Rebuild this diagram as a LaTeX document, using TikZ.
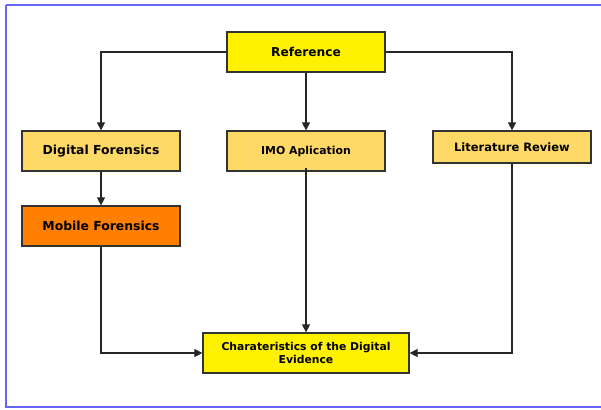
\documentclass[tikz,border=0pt]{standalone}
\usepackage{fontspec}
\setmainfont{DejaVu Sans}
\usetikzlibrary{arrows.meta}
\definecolor{boxedge}{HTML}{333333}
\definecolor{lightorange}{HTML}{FFD966}
\definecolor{darkorange}{HTML}{FF8000}
\definecolor{frameblue}{HTML}{6666FF}
\tikzset{
  box/.style={draw=boxedge, line width=1.2pt, inner sep=0pt, font=\bfseries},
  conn/.style={draw=black!85, line width=1.1pt, -{Triangle[length=8pt,width=8pt]}},
}
\begin{document}
\begin{tikzpicture}[x=1pt,y=-1pt]
\useasboundingbox (0,0) rectangle (601,409);
\draw[frameblue, line width=1.3pt] (6,5) -- (603,5) (6,5) -- (6,407) -- (603,407);
\node[box, fill=yellow, minimum width=158pt, minimum height=40pt, font=\bfseries\fontsize{12.2}{14}\selectfont] (ref) at (306,52) {Reference};
\node[box, fill=lightorange, minimum width=158pt, minimum height=40pt, font=\bfseries\fontsize{12.4}{14}\selectfont] (df) at (101,151) {Digital Forensics};
\node[box, fill=lightorange, minimum width=158pt, minimum height=40pt, font=\bfseries\fontsize{10.9}{12}\selectfont] (imo) at (306,151) {IMO Aplication};
\node[box, fill=lightorange, minimum width=158pt, minimum height=32pt, font=\bfseries\fontsize{11.5}{13}\selectfont] (lit) at (512,147) {Literature Review};
\node[box, fill=darkorange, minimum width=158pt, minimum height=40pt, font=\bfseries\fontsize{12.4}{14}\selectfont] (mf) at (101,226) {Mobile Forensics};
\node[box, fill=yellow, minimum width=206pt, minimum height=40pt, align=center, font=\bfseries\fontsize{10.8}{13}\selectfont] (ch) at (306,353) {Charateristics of the Digital\\Evidence};
\draw[conn] (ref.west) -| (df.north);
\draw[conn] (ref.south) -- (imo.north);
\draw[conn] (ref.east) -| (lit.north);
\draw[conn] (df.south) -- (mf.north);
\draw[conn] ([yshift=4pt]imo.south) -- (ch.north);
\draw[conn] (mf.south) |- (ch.west);
\draw[conn] (lit.south) |- (ch.east);
\end{tikzpicture}
\end{document}
